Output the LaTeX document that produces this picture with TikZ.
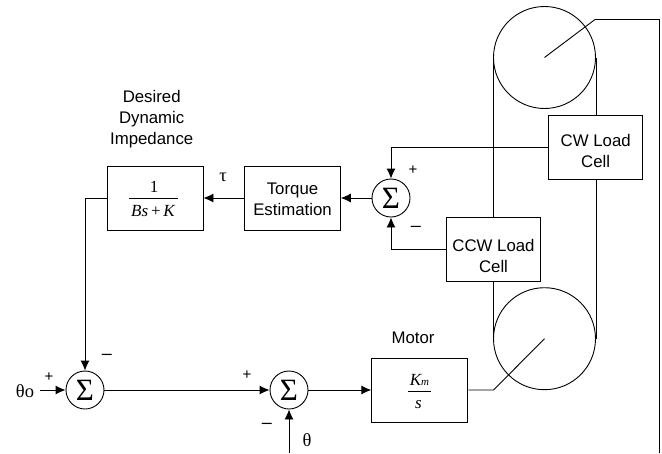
\documentclass[tikz,border=0pt]{standalone}
\usepackage{fontspec}
\setmainfont{Liberation Sans}
\newfontfamily\timesf{Liberation Serif}
\usetikzlibrary{arrows.meta}
\tikzset{
  x=1pt,y=-1pt,
  every path/.style={line width=0.9pt},
  boxn/.style={draw,fill=white,rectangle,minimum width=95pt,minimum height=64pt,inner sep=0pt},
  sumn/.style={draw,fill=white,circle,minimum size=38pt,inner sep=0pt,font=\timesf\fontsize{31}{31}\selectfont},
  pulley/.style={draw,circle,minimum size=102pt,inner sep=0pt},
  lab/.style={inner sep=0pt,align=center,font=\fontsize{16.8}{21}\selectfont},
  sgn/.style={inner sep=0pt,font=\fontsize{15}{15}\selectfont},
  mns/.style={inner sep=0pt,font=\fontsize{18}{18}\selectfont},
  serif/.style={inner sep=0pt,font=\timesf\fontsize{18.5}{18.5}\selectfont},
  frup/.style={inner sep=0pt,font=\timesf\fontsize{17}{17}\selectfont},
  frit/.style={inner sep=0pt,font=\timesf\itshape\fontsize{17}{17}\selectfont},
  wire/.style={line width=0.9pt},
  arr/.style={wire,-{Latex[length=10pt,width=9pt]}}
}
\begin{document}
\begin{tikzpicture}
\useasboundingbox (0,0) rectangle (662,453);
% pulleys and belt
\node[pulley] (pt) at (544.5,57.5) {};
\node[pulley] (pb) at (544.5,338.7) {};
\coordinate (ctop) at (544.5,57.5);
\coordinate (cbot) at (544.5,338.7);
\coordinate (ktop) at (595,19.5);
\coordinate (ktr) at (659.5,19.5);
\coordinate (kbr) at (659.5,453);
\coordinate (kmot) at (493.5,390);
\draw[wire] (pt.west) -- (pb.west);
\draw[wire] (pt.east) -- (pb.east);
\draw[wire] (ctop) -- (ktop) -- (ktr) -- (kbr);
% boxes
\node[boxn,minimum width=94pt,minimum height=64pt] (cw) at (595.5,147.4) {};
\node[boxn,minimum width=94pt,minimum height=64pt] (ccw) at (493.5,249.3) {};
\node[boxn,minimum width=96pt] (te) at (292.3,198) {};
\node[boxn,minimum width=96pt] (imp) at (155,198) {};
\node[boxn,minimum width=96pt] (mot) at (419.8,390) {};
% box texts
\node[lab] (tcw) at (595.7,150.5) {CW Load\\Cell};
\node[lab] (tccw) at (493.5,255.5) {CCW Load\\Cell};
\node[lab] (tte) at (292.5,199.5) {Torque\\Estimation};
% fractions
\node[frup] (n1) at (154,187) {1};
\node[frit] (d1) at (153,211.5) {Bs\,{\upshape +}\,K};
\draw[wire] (129,198.5) -- (178,198.5);
\node[frit] (n2) at (419.5,380) {K{\fontsize{11}{11}\selectfont m}};
\node[frit] (d2) at (418.5,405) {s};
\draw[wire] (408,391) -- (431,391);
% summing junctions
\node[sumn] (s3) at (391,198) {Σ};
\node[sumn] (s1) at (85,390) {Σ};
\node[sumn] (s2) at (289,390) {Σ};
% connectors
\draw[arr] (cw.west) -- (391,147.4) -- (s3.north);
\draw[arr] (ccw.west) -- (391,249.3) -- (s3.south);
\draw[arr] (s3.west) -- (te.east);
\draw[arr] (te.west) -- (imp.east);
\draw[arr] (imp.west) -- (85,198) -- (s1.north);
\coordinate (in0) at (40,390);
\coordinate (inth) at (289,453);
\draw[arr] (in0) -- (s1.west);
\draw[arr] (s1.east) -- (s2.west);
\draw[arr] (s2.east) -- (mot.west);
\draw[arr] (inth) -- (s2.south);
\draw[wire] (mot.east) -- (kmot) -- (cbot);
% labels
\node[lab] (ti) at (151.7,119) {Desired\\Dynamic\\Impedance};
\node[lab] (tm) at (413,337.5) {Motor};
\node[serif] (tau) at (223,177) {τ};
\node[serif] (th0) at (25,391) {θo};
\node[serif] (th) at (307,440) {θ};
\node[sgn] (p1) at (413,170) {+};
\node[mns] (m1) at (416,229) {–};
\node[sgn] (p2) at (49,377) {+};
\node[mns] (m2) at (107,357) {–};
\node[sgn] (p3) at (247,375) {+};
\node[mns] (m3) at (267,426) {–};
\end{tikzpicture}
\end{document}
